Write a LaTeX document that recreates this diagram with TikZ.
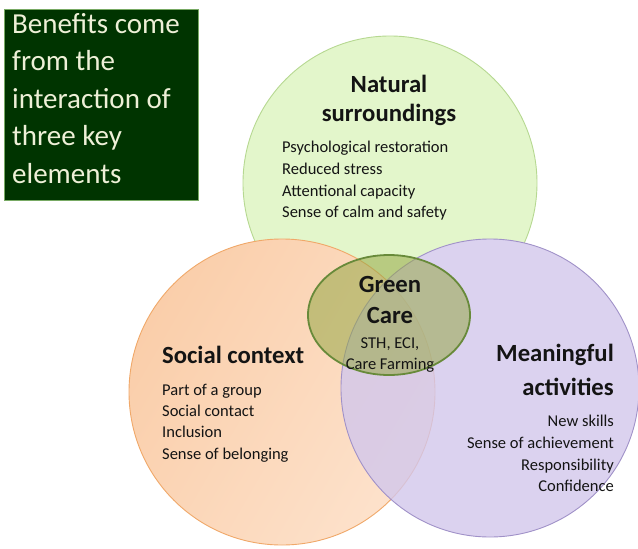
\documentclass[tikz,border=0pt]{standalone}
\usepackage{fontspec}
\setmainfont{Carlito}
\usetikzlibrary{shapes.geometric}
\definecolor{boxfill}{RGB}{0,52,0}
\definecolor{boxline}{RGB}{120,170,100}
\definecolor{boxtext}{RGB}{238,240,215}
\definecolor{natfill}{RGB}{227,246,203}
\definecolor{natline}{RGB}{182,216,145}
\definecolor{socfill}{RGB}{250,206,170}
\definecolor{socfill2}{RGB}{253,226,204}
\definecolor{socline}{RGB}{240,168,105}
\definecolor{actfill}{RGB}{210,199,236}
\definecolor{actline}{RGB}{160,145,200}
\definecolor{carefill}{RGB}{150,168,70}
\definecolor{careline}{RGB}{104,138,58}
\definecolor{txt}{RGB}{20,20,20}
\tikzset{
  venn/.style={circle, inner sep=0pt, line width=0.9pt},
  head/.style={font=\fontsize{24.7}{28}\selectfont\bfseries, text=txt, inner sep=0pt},
  item/.style={font=\fontsize{16.5}{21}\selectfont, text=txt, inner sep=0pt},
  boxtxt/.style={font=\fontsize{29}{37}\selectfont, text=boxtext, inner sep=0pt, anchor=base west},
}
\begin{document}
\begin{tikzpicture}[x=1pt,y=-1pt]
\useasboundingbox (0,0) rectangle (638,549);
% title box
\node[draw=boxline, fill=boxfill, line width=0.8pt, minimum width=194pt, minimum height=191pt, inner sep=0pt, anchor=north west] (box) at (4,9) {};
\node[boxtxt] (b1) at (12,33) {Benefits come};
\node[boxtxt] (b2) at (12,70.5) {from the};
\node[boxtxt] (b3) at (12,108) {interaction of};
\node[boxtxt] (b4) at (12,145.5) {three key};
\node[boxtxt] (b5) at (12,183) {elements};
% circles
\node[venn, draw=natline, fill=natfill, minimum size=294pt] (nat) at (390,183) {};
\node[venn, fill=white, minimum size=298pt] (mask) at (490,388) {};
\node[venn, draw=socline, shading=axis, left color=socfill, right color=socfill2, shading angle=60, minimum size=306pt] (soc) at (282,392) {};
\node[venn, draw=actline, fill=actfill, fill opacity=0.8, minimum size=298pt] (act) at (490,388) {};
\node[ellipse, inner sep=0pt, draw=careline, line width=1.8pt, fill=carefill, fill opacity=0.55, minimum width=162pt, minimum height=120pt] (care) at (389,315) {};
% natural surroundings
\node[head, anchor=base] (n1) at (389,92.5) {Natural};
\node[head, anchor=base] (n2) at (389,121) {surroundings};
\node[item, anchor=base west] (n3) at (282,152.3) {Psychological restoration};
\node[item, anchor=base west] (n4) at (282,174) {Reduced stress};
\node[item, anchor=base west] (n5) at (282,196) {Attentional capacity};
\node[item, anchor=base west] (n6) at (282,217.7) {Sense of calm and safety};
% green care
\node[head, anchor=base] (g1) at (390,292.7) {Green};
\node[head, anchor=base] (g2) at (390,323) {Care};
\node[item, anchor=base] (g3) at (390,348) {STH, ECI,};
\node[item, anchor=base] (g4) at (390,369) {Care Farming};
% social context
\node[head, anchor=base west] (s1) at (162,363) {Social context};
\node[item, anchor=base west] (s2) at (162,395) {Part of a group};
\node[item, anchor=base west] (s3) at (162,416) {Social contact};
\node[item, anchor=base west] (s4) at (162,437.5) {Inclusion};
\node[item, anchor=base west] (s5) at (162,459.5) {Sense of belonging};
% meaningful activities
\node[head, anchor=base east] (m1) at (614,361.7) {Meaningful};
\node[head, anchor=base east] (m2) at (614,395) {activities};
\node[item, anchor=base east] (m3) at (614,426.7) {New skills};
\node[item, anchor=base east] (m4) at (614,448) {Sense of achievement};
\node[item, anchor=base east] (m5) at (614,470) {Responsibility};
\node[item, anchor=base east] (m6) at (614,491.7) {Confidence};
\end{tikzpicture}
\end{document}
